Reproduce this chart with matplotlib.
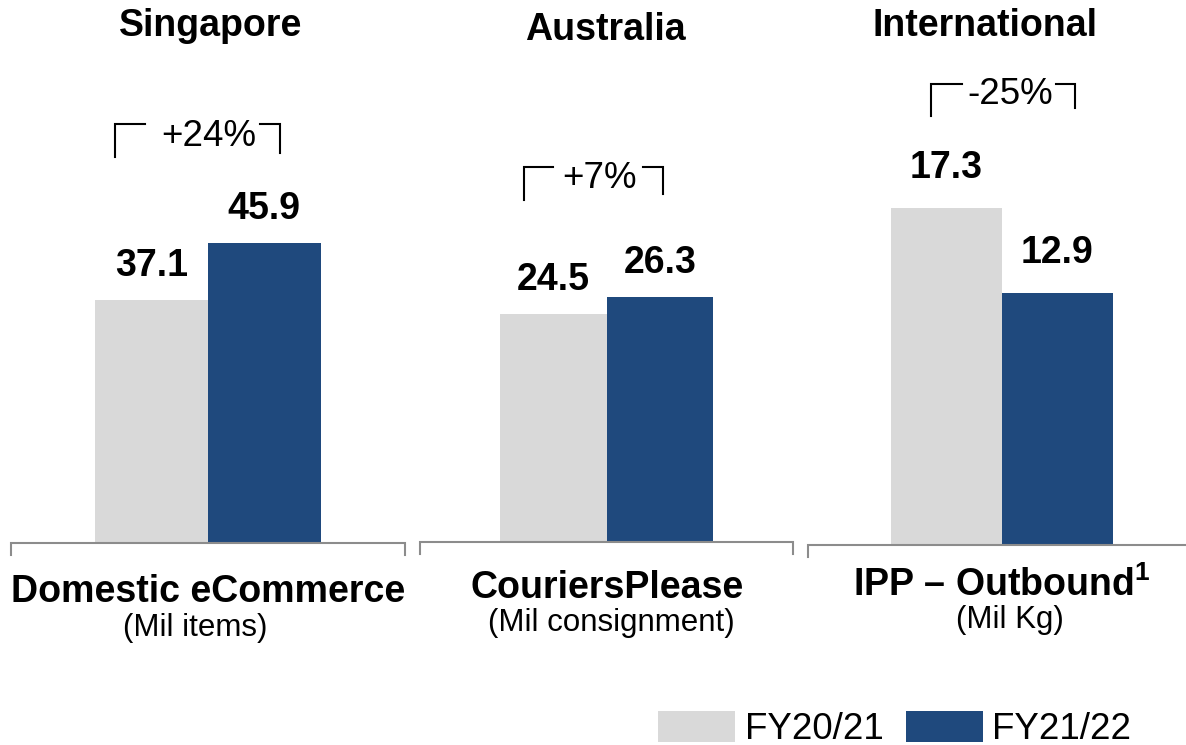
import matplotlib.pyplot as plt
from matplotlib.patches import Patch
from matplotlib.lines import Line2D

plt.rcParams['font.family'] = ['Liberation Sans', 'DejaVu Sans']
plt.rcParams['mathtext.fontset'] = 'custom'
plt.rcParams['mathtext.rm'] = 'Liberation Sans'
plt.rcParams['mathtext.bf'] = 'Liberation Sans:bold'

# data
regions = ['Singapore', 'Australia', 'International']
segments = ['Domestic eCommerce', 'CouriersPlease', r'IPP – Outbound$^{\mathbf{1}}$']
units = ['(Mil items)', '(Mil consignment)', '(Mil Kg)']
fy2021 = [37.1, 24.5, 17.3]
fy2122 = [45.9, 26.3, 12.9]
changes = ['+24%', '+7%', '-25%']
series = ['FY20/21', 'FY21/22']

GREY = '#D9D9D9'
BLUE = '#1F497D'
AXIS = '#8C8C8C'

W, H = 1186, 745
fig = plt.figure(figsize=(W / 100, H / 100), dpi=100)

def fx(px):
    return px / W

def fy(py):
    return 1 - py / H

# layout of each panel, in pixels: left, right, baseline, px per unit, label gap
panels = [(11, 405, 543, 6.54, 24), (420, 793, 542, 9.3, 24), (808, 1196, 545, 19.5, 30)]
top = 40
# title (x, baseline y), category (x, y), unit (x, y)
title_pos = [(211, 36), (605, 40), (985, 36)]
cat_pos = [(208, 602), (607, 598), (1002, 596)]
unit_pos = [(195, 636), (611, 631), (1010, 628)]
# bracket: left x, left horiz end, right horiz start, right x, top y, left bottom, right bottom, text x, text y
brackets = [(115, 145, 260, 280, 124, 157, 153, 209, 136),
            (524, 553, 643, 663, 167, 200, 194, 600, 178),
            (931, 962, 1056, 1075, 84, 116, 108, 1010, 94)]

for i in range(3):
    l, r, base, scale, gap = panels[i]
    ax = fig.add_axes([fx(l), fy(base), (r - l) / W, (base - top) / H])
    ax.bar([-0.5, 0.5], [fy2021[i], fy2122[i]], width=1, color=[GREY, BLUE])
    ax.set_xlim(-1.75, 1.75)
    ax.set_ylim(0, (base - top) / scale)
    ax.axis('off')
    t = 12 / (base - top)
    ax.plot([0, 0, 1, 1], [-t, 0, 0, -t], transform=ax.transAxes, color=AXIS,
            lw=1.5, clip_on=False, solid_joinstyle='miter')
    for x, v in zip([-0.5, 0.5], [fy2021[i], fy2122[i]]):
        ax.annotate(f'{v:.1f}', (x, v), xytext=(0, gap * 0.72), textcoords='offset points',
                    ha='center', va='baseline', fontsize=27, fontweight='bold')

    fig.text(fx(title_pos[i][0]), fy(title_pos[i][1]), regions[i], ha='center',
             va='baseline', fontsize=27, fontweight='bold')
    fig.text(fx(cat_pos[i][0]), fy(cat_pos[i][1]), segments[i], ha='center',
             va='baseline', fontsize=27, fontweight='bold')
    fig.text(fx(unit_pos[i][0]), fy(unit_pos[i][1]), units[i], ha='center',
             va='baseline', fontsize=22.5)

    bl, ble, brs, br, by, lb, rb, tx, ty = brackets[i]
    fig.add_artist(Line2D([fx(bl), fx(bl), fx(ble)], [fy(lb), fy(by), fy(by)],
                          color='black', lw=1.5, solid_joinstyle='miter'))
    fig.add_artist(Line2D([fx(brs), fx(br), fx(br)], [fy(by), fy(by), fy(rb)],
                          color='black', lw=1.5, solid_joinstyle='miter'))
    fig.text(fx(tx), fy(ty), changes[i], ha='center', va='center', fontsize=26.5)

handles = [Patch(facecolor=GREY), Patch(facecolor=BLUE)]
fig.legend(handles, series, loc='lower right', bbox_to_anchor=(fx(1131), fy(747)),
           ncol=2, frameon=False, fontsize=26.5, handlelength=2.1, handleheight=0.92,
           handletextpad=0.25, columnspacing=0.6, borderpad=0, borderaxespad=0)

fig.savefig('out.png', dpi=100)
